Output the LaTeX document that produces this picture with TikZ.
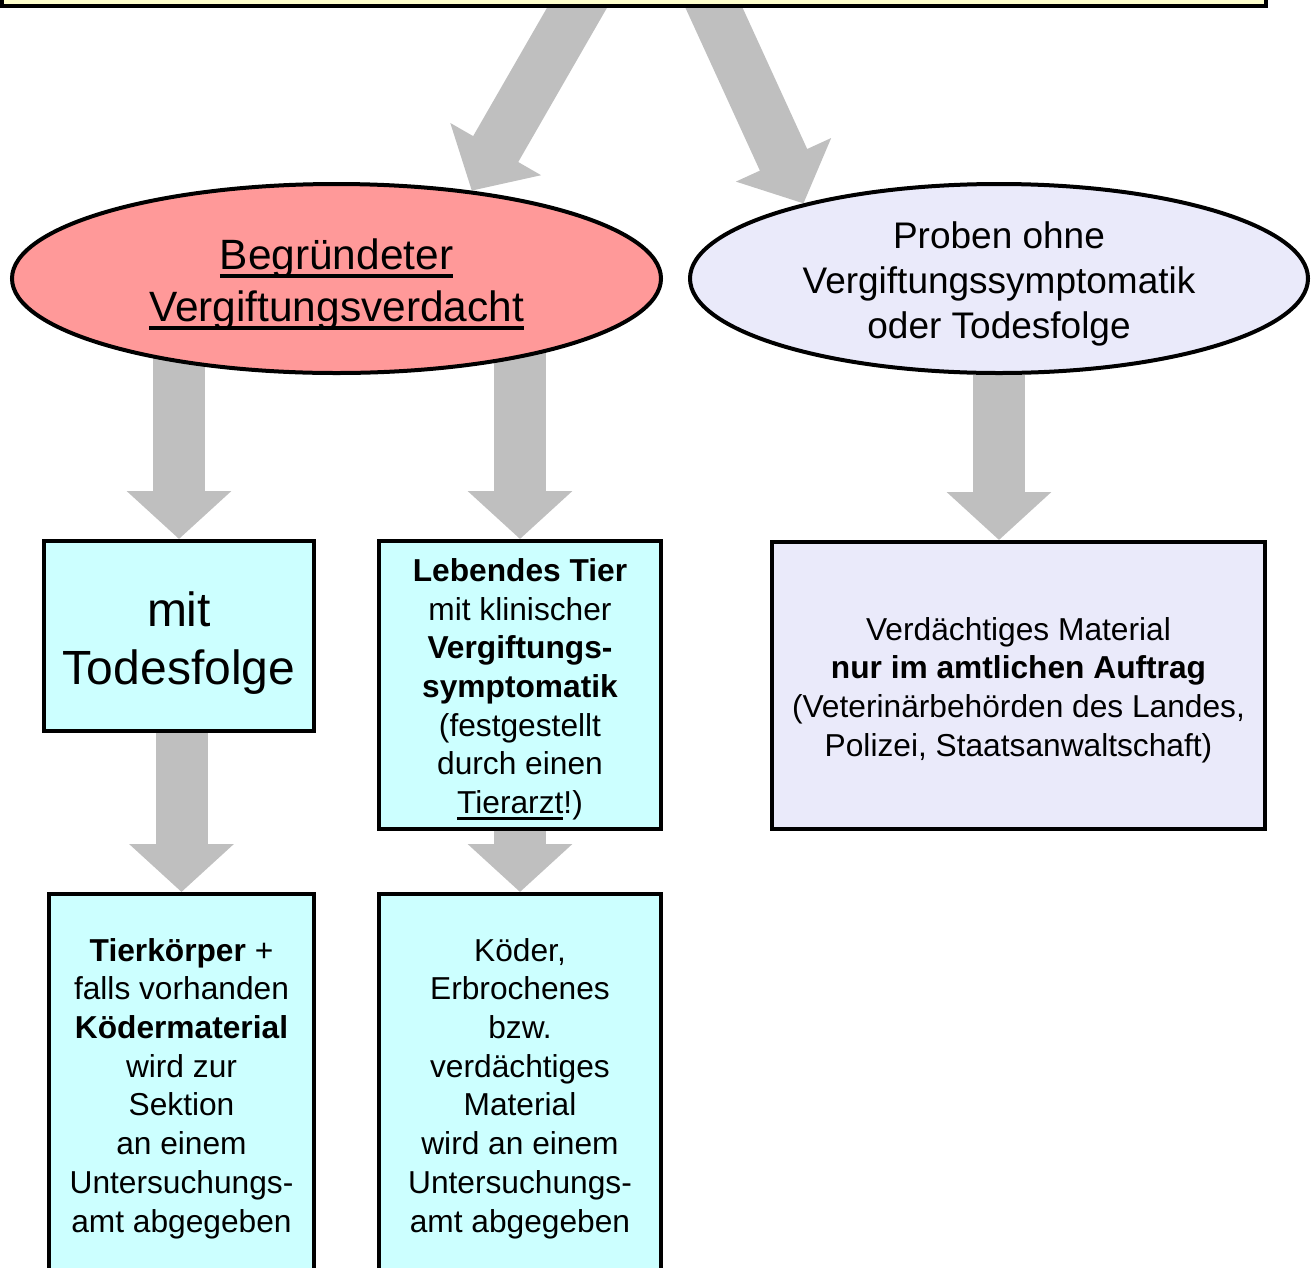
\documentclass[tikz,border=0pt]{standalone}
\usepackage{fontspec}
\setmainfont{Liberation Sans}
\usetikzlibrary{shapes.geometric, arrows.meta, backgrounds}
\definecolor{paleyellow}{HTML}{FFFFCC}
\definecolor{palered}{HTML}{FF9999}
\definecolor{palelilac}{HTML}{EAEAFA}
\definecolor{palecyan}{HTML}{CCFFFF}
\definecolor{arrowgray}{HTML}{BFBFBF}
\newcommand{\strutup}{\rule{0pt}{1em}}
\newcommand{\ulin}[1]{\sbox0{#1}\rlap{\rule[-0.2em]{\wd0}{0.08em}}\usebox0}

\begin{document}
\begin{tikzpicture}[x=1pt, y=-1pt,
    box/.style = {draw, line width=4pt, inner sep=0pt, align=center, font=\fontsize{31.7}{38.7}\selectfont},
    oval/.style = {draw, ellipse, line width=4pt, inner sep=0pt, inner ysep=-8pt, align=center},
    fat/.style = {draw=arrowgray, line width=52pt, -{Triangle[width=102pt, length=48pt]}}]
        \useasboundingbox (0,0) rectangle (1315,1267);

        \node[box, fill=paleyellow, minimum width=1264.5pt, minimum height=200pt, anchor=south] (Start) at (634,8) {};

        \node[oval, fill=palered, minimum width=649pt, minimum height=189pt, font=\fontsize{42.4}{52}\selectfont] (Verdacht) at (336.5,278.5) {\strutup\ulin{Begründeter}\\\ulin{Vergiftungsverdacht}};
        \node[oval, fill=palelilac, minimum width=618pt, minimum height=189pt, font=\fontsize{37}{45}\selectfont] (Proben) at (999,278.5) {\strutup Proben ohne\\Vergiftungssymptomatik\\oder Todesfolge};

        \node[box, fill=palecyan, minimum width=270pt, minimum height=190pt, font=\fontsize{48}{58}\selectfont] (Tod) at (179,636) {\strutup mit\\Todesfolge};
        \node[box, fill=palecyan, minimum width=282pt, minimum height=288pt] (Lebend) at (520,685) {\strutup\textbf{Lebendes Tier}\\mit klinischer\\\textbf{Vergiftungs-}\\\textbf{symptomatik}\\(festgestellt\\durch einen\\\ulin{Tierarzt}!)};
        \node[box, fill=palelilac, minimum width=493pt, minimum height=287pt] (Amtlich) at (1018.5,685.5) {\strutup Verdächtiges Material\\\textbf{nur im amtlichen Auftrag}\\(Veterinärbehörden des Landes,\\Polizei, Staatsanwaltschaft)};

        \node[box, fill=palecyan, minimum width=265pt, minimum height=380pt] (Sektion) at (181.5,1084) {\strutup\textbf{Tierkörper} +\\falls vorhanden\\\textbf{Ködermaterial}\\wird zur\\Sektion\\an einem\\Untersuchungs-\\amt abgegeben};
        \node[box, fill=palecyan, minimum width=282pt, minimum height=380pt] (Koeder) at (520,1084) {\strutup Köder,\\Erbrochenes\\bzw.\\verdächtiges\\Material\\wird an einem\\Untersuchungs-\\amt abgegeben};

        \coordinate (a1) at (616,-60);
        \coordinate (a2) at (683,-60);

        \begin{scope}[on background layer]
            \draw[fat] (a1) -- (Verdacht.33);
            \draw[fat] (a2) -- (Proben.159);
            \draw[fat] (Tod |- Verdacht.center) -- (Tod.north);
            \draw[fat] (Lebend |- Verdacht.center) -- (Lebend.north);
            \draw[fat] (Proben) -- (Proben |- Amtlich.north);
            \draw[fat] (Sektion |- Tod.center) -- (Sektion.north);
            \draw[fat] (Lebend) -- (Koeder.north);
        \end{scope}
    \end{tikzpicture}
\end{document}
